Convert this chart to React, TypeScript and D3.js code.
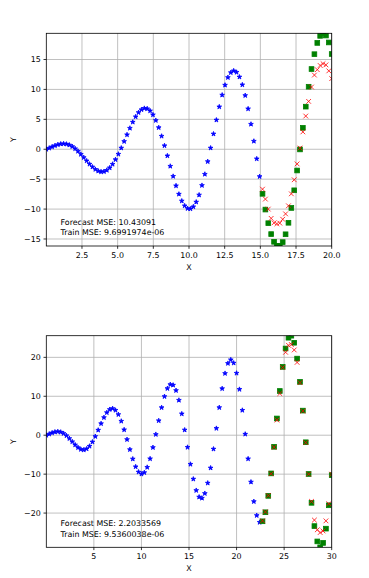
import * as d3 from "d3";
import { useEffect, useRef } from "react";

const W = 369;
const H = 578;
const N_POINTS = 100;

// Panel 1 — samples over x ∈ [0, 20]
const topTrain = [
  0, 0.19, 0.4, 0.6, 0.77, 0.88, 0.92, 0.86, 0.71, 0.46, 0.1, -0.33, -0.84,
  -1.38, -1.94, -2.48, -2.96, -3.36, -3.64, -3.77, -3.73, -3.51, -3.1, -2.5,
  -1.73, -0.82, 0.21, 1.31, 2.43, 3.52, 4.54, 5.43, 6.14, 6.62, 6.84, 6.78,
  6.42, 5.76, 4.82, 3.62, 2.19, 0.6, -1.1, -2.83, -4.52, -6.1, -7.5, -8.64,
  -9.45, -9.9, -9.96, -9.61, -8.82, -7.64, -6.04, -4.17, -2.06, 0.21, 2.56,
  4.89, 7.09, 9.06, 10.72, 12.0, 12.81, 13.11, 12.87, 12.08, 10.77, 8.99, 6.76,
  4.19, 1.35, -1.6, -4.56,
];
const topTruth = [
  -7.45, -10.08, -12.36, -14.18, -15.47, -16.14, -16.17, -15.52, -14.21,
  -12.29, -9.81, -6.86, -3.55, -0.03, 3.58, 7.12, 10.45, 13.41, 15.89, 17.77,
  18.95, 19.38, 19.01, 17.85, 15.92,
];
const topForecast = [
  -6.67, -8.33, -10.0, -11.55, -12.3, -12.45, -12.35, -11.7, -10.8, -9.45,
  -7.45, -5.1, -2.45, 0.2, 2.9, 5.55, 8.0, 10.4, 12.4, 13.3, 14.0, 14.3, 14.1,
  13.1, 11.8,
];
const topXTicks = [2.5, 5, 7.5, 10, 12.5, 15, 17.5, 20];
const topYTicks = [-15, -10, -5, 0, 5, 10, 15];
const topNotes = ["Forecast MSE: 10.43091", "Train MSE: 9.6991974e-06"];

// Panel 2 — samples over x ∈ [0, 30]
const bottomTrain = [
  0, 0.3, 0.6, 0.83, 0.92, 0.8, 0.46, -0.11, -0.84, -1.66, -2.48, -3.18,
  -3.64, -3.77, -3.5, -2.82, -1.73, -0.32, 1.31, 2.98, 4.54, 5.81, 6.62, 6.85,
  6.42, 5.32, 3.61, 1.41, -1.1, -3.69, -6.1, -8.1, -9.45, -9.97, -9.6, -8.24,
  -6.04, -3.15, 0.21, 3.74, 7.09, 9.94, 12.0, 13.02, 12.87, 11.49, 8.99, 5.49,
  1.35, -3.1, -7.45, -11.26, -14.18, -15.88, -16.17, -14.95, -12.29, -8.41,
  -3.55, 1.76, 7.1, 11.97, 15.88, 18.45, 19.38, 18.54, 15.94, 11.78, 6.41,
  0.28, -6.06, -12.02, -17.03, -20.61, -22.37,
];
const bottomTruth = [
  -22.11, -19.79, -15.58, -9.81, -2.98, 4.3, 11.36, 17.54, 22.27, 25.04,
  25.56, 23.75, 19.68, 13.69, 6.32, -1.81, -9.96, -17.37, -23.34, -27.28,
  -28.79, -27.67, -24.0, -18.0, -10.25,
];
const bottomForecast = [
  -22.0, -19.7, -15.5, -9.9, -3.1, 3.9, 10.7, 17.4, 21.3, 23.1, 23.3, 21.9,
  18.7, 13.5, 6.2, -1.9, -10.0, -17.0, -21.8, -24.3, -25.0, -24.6, -22.0,
  -17.6, -10.0,
];
const bottomXTicks = [5, 10, 15, 20, 25, 30];
const bottomYTicks = [-20, -10, 0, 10, 20];
const bottomNotes = ["Forecast MSE: 2.2033569", "Train MSE: 9.5360038e-06"];

interface PanelSpec {
  id: string;
  span: number;
  train: number[];
  truth: number[];
  forecast: number[];
  xTicks: number[];
  yTicks: number[];
  xFormat: (v: number) => string;
  notes: string[];
  top: number;
  bottom: number;
}

const panels: PanelSpec[] = [
  {
    id: "p1",
    span: 20,
    train: topTrain,
    truth: topTruth,
    forecast: topForecast,
    xTicks: topXTicks,
    yTicks: topYTicks,
    xFormat: d3.format(".1f"),
    notes: topNotes,
    top: 33.3,
    bottom: 246,
  },
  {
    id: "p2",
    span: 30,
    train: bottomTrain,
    truth: bottomTruth,
    forecast: bottomForecast,
    xTicks: bottomXTicks,
    yTicks: bottomYTicks,
    xFormat: d3.format("d"),
    notes: bottomNotes,
    top: 335.7,
    bottom: 547.3,
  },
];

const FONT = "'DejaVu Sans', sans-serif";
const FS = 7.9;
const LEFT = 46.3;
const RIGHT = 331.7;
const TICK = 2.8;
const INK = "#000";

function drawPanel(
  svg: d3.Selection<SVGSVGElement, unknown, null, undefined>,
  p: PanelSpec,
) {
  const w = RIGHT - LEFT;
  const h = p.bottom - p.top;
  const g = svg.append("g").attr("transform", `translate(${LEFT},${p.top})`);

  // sample index -> x value, then x value -> px
  const idx = d3.scaleLinear().domain([0, N_POINTS - 1]).range([0, p.span]);
  const x = d3.scaleLinear().domain([0, p.span]).range([0, w]);
  const y = d3
    .scaleLinear()
    .domain(d3.extent([...p.train, ...p.truth]) as [number, number])
    .range([h, 0]);

  g.append("clipPath")
    .attr("id", `clip-${p.id}`)
    .append("rect")
    .attr("width", w)
    .attr("height", h);

  // grid
  g.selectAll("line.gx")
    .data(p.xTicks)
    .enter()
    .append("line")
    .attr("x1", (t) => x(t))
    .attr("x2", (t) => x(t))
    .attr("y1", 0)
    .attr("y2", h)
    .attr("stroke", "#b0b0b0")
    .attr("stroke-width", 0.8);
  g.selectAll("line.gy")
    .data(p.yTicks)
    .enter()
    .append("line")
    .attr("x1", 0)
    .attr("x2", w)
    .attr("y1", (t) => y(t))
    .attr("y2", (t) => y(t))
    .attr("stroke", "#b0b0b0")
    .attr("stroke-width", 0.8);

  const plot = g.append("g").attr("clip-path", `url(#clip-${p.id})`);
  const nTrain = p.train.length;

  const star = d3.symbol().type(d3.symbolStar).size(6.8)();
  plot
    .selectAll("path.train")
    .data(p.train)
    .enter()
    .append("path")
    .attr("d", star)
    .attr("transform", (d, i) => `translate(${x(idx(i))},${y(d)})`)
    .attr("fill", "#0000ff")
    .attr("stroke", "#0000ff")
    .attr("stroke-width", 0.8)
    .attr("stroke-linejoin", "miter");

  const sq = 4.7;
  plot
    .selectAll("rect.truth")
    .data(p.truth)
    .enter()
    .append("rect")
    .attr("x", (d, i) => x(idx(i + nTrain)) - sq / 2)
    .attr("y", (d) => y(d) - sq / 2)
    .attr("width", sq)
    .attr("height", sq)
    .attr("fill", "#008000")
    .attr("stroke", "#008000")
    .attr("stroke-width", 0.8);

  const xr = 2.35;
  const cross = plot
    .selectAll("g.fc")
    .data(p.forecast)
    .enter()
    .append("g")
    .attr("transform", (d, i) => `translate(${x(idx(i + nTrain))},${y(d)})`)
    .attr("stroke", "#ff0000")
    .attr("stroke-width", 0.8);
  cross.append("line").attr("x1", -xr).attr("y1", -xr).attr("x2", xr).attr("y2", xr);
  cross.append("line").attr("x1", -xr).attr("y1", xr).attr("x2", xr).attr("y2", -xr);

  // frame
  g.append("rect")
    .attr("width", w)
    .attr("height", h)
    .attr("fill", "none")
    .attr("stroke", INK)
    .attr("stroke-width", 0.8);

  // ticks + labels
  g.selectAll("line.tx")
    .data(p.xTicks)
    .enter()
    .append("line")
    .attr("x1", (t) => x(t))
    .attr("x2", (t) => x(t))
    .attr("y1", h)
    .attr("y2", h + TICK)
    .attr("stroke", INK)
    .attr("stroke-width", 0.8);
  g.selectAll("text.tx")
    .data(p.xTicks)
    .enter()
    .append("text")
    .attr("x", (t) => x(t))
    .attr("y", h + 11.6)
    .attr("text-anchor", "middle")
    .text((t) => p.xFormat(t));
  g.selectAll("line.ty")
    .data(p.yTicks)
    .enter()
    .append("line")
    .attr("x1", -TICK)
    .attr("x2", 0)
    .attr("y1", (t) => y(t))
    .attr("y2", (t) => y(t))
    .attr("stroke", INK)
    .attr("stroke-width", 0.8);
  g.selectAll("text.ty")
    .data(p.yTicks)
    .enter()
    .append("text")
    .attr("x", -TICK - 2.8)
    .attr("y", (t) => y(t) + FS * 0.36)
    .attr("text-anchor", "end")
    .text((t) => d3.format("d")(t));

  g.append("text")
    .attr("x", w / 2)
    .attr("y", h + 24)
    .attr("text-anchor", "middle")
    .text("X");
  g.append("text")
    .attr("transform", `translate(${16.2 - LEFT},${h / 2}) rotate(-90)`)
    .attr("text-anchor", "middle")
    .text("Y");

  // MSE notes, placed in axes fractions like the original text calls
  p.notes.forEach((line, k) => {
    g.append("text")
      .attr("x", w * 0.05)
      .attr("y", h * (0.9 + 0.05 * k))
      .text(line);
  });
}

export default function App() {
  const svgRef = useRef<SVGSVGElement>(null);

  useEffect(() => {
    const el = svgRef.current;
    if (!el) return;
    const svg = d3.select(el);
    svg.selectAll("*").remove();
    svg
      .attr("font-family", FONT)
      .attr("font-size", FS)
      .attr("fill", INK);
    panels.forEach((p) => drawPanel(svg, p));
  }, []);

  return (
    <svg
      ref={svgRef}
      width={W}
      height={H}
      style={{ position: "absolute", left: 0, top: 0, background: "#fff" }}
    />
  );
}
